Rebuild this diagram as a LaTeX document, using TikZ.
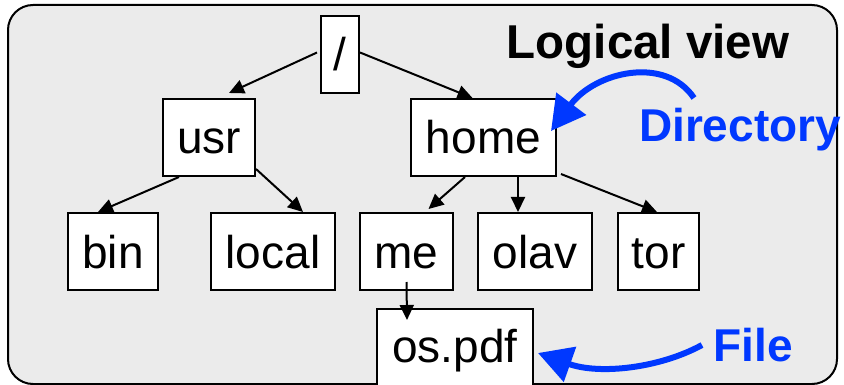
\documentclass[tikz,border=0pt]{standalone}
\usepackage{fontspec}
\setmainfont{Liberation Sans}
\usetikzlibrary{arrows.meta}
\definecolor{bgray}{RGB}{235,235,235}
\definecolor{lblue}{RGB}{0,56,255}
\begin{document}
\begin{tikzpicture}[x=1pt,y=-1pt,
  fbox/.style={draw=black,line width=2pt,fill=white,inner sep=0pt,
    text height=55pt,text depth=22pt,anchor=base,
    font=\fontsize{46}{50}\selectfont},
  link/.style={line width=2pt,-{Triangle[length=15pt,width=14pt]}},
  callout/.style={lblue,line width=6pt,-{Triangle[length=34pt,width=36pt]}},
  lbl/.style={anchor=base,inner sep=0pt,font=\fontsize{46}{50}\selectfont\bfseries}]
\useasboundingbox (0,0) rectangle (844,385);
\clip (0,0) rectangle (844,385);
\draw[line width=2pt,fill=bgray,rounded corners=25pt] (8,5) rectangle (837,384);
\node[fbox,minimum width=38pt] (root) at (340,71) {/};
\node[fbox,minimum width=92pt] (usr) at (209,154) {usr};
\node[fbox,minimum width=145pt] (home) at (483.5,154) {home};
\node[fbox,minimum width=90pt] (bin) at (113,268) {bin};
\node[fbox,minimum width=124pt] (local) at (273,268) {local};
\node[fbox,minimum width=93pt] (me) at (406.5,268) {me};
\node[fbox,minimum width=114pt] (olav) at (535,268) {olav};
\node[fbox,minimum width=81pt] (tor) at (658.5,268) {tor};
\node[fbox,minimum width=156pt,text height=53pt,text depth=40pt] (os) at (455,362) {os.pdf};
\node[lbl,font=\fontsize{47.5}{50}\selectfont\bfseries] (logical) at (648,59) {Logical view};
\node[lbl,text=lblue] (dir) at (740,142) {Directory};
\node[lbl,text=lblue] (file) at (753,361) {File};
\draw[link] ([xshift=-3pt,yshift=2pt]root.west) -- ([xshift=20pt,yshift=5pt]usr.north);
\draw[link] ([yshift=2pt]root.east) -- ([xshift=-11pt,yshift=0pt]home.north);
\draw[link] ([xshift=-30pt]usr.south) -- ([xshift=-15pt]bin.north);
\draw[link] ([yshift=8pt]usr.south east) -- ([xshift=30pt]local.north);
\draw[link] ([xshift=-18.5pt]home.south) -- ([xshift=22pt,yshift=3pt]me.north);
\draw[link] ([xshift=34.5pt]home.south) -- ([xshift=-17pt]olav.north);
\draw[link] ([xshift=4pt,yshift=3pt]home.south east) -- ([xshift=-1.5pt]tor.north);
\draw[link] ([yshift=9pt]me.south) -- ([xshift=-48pt,yshift=-12pt]os.north);
\coordinate (dstart) at (694,98);
\coordinate (fstart) at (702,345);
\draw[callout] (dstart) .. controls (665,55) and (595,72) .. ([xshift=-6pt,yshift=6.5pt]home.east);
\draw[callout] (fstart) .. controls (660,368) and (600,375) .. ([xshift=4pt,yshift=2.5pt]os.east);
\end{tikzpicture}
\end{document}
